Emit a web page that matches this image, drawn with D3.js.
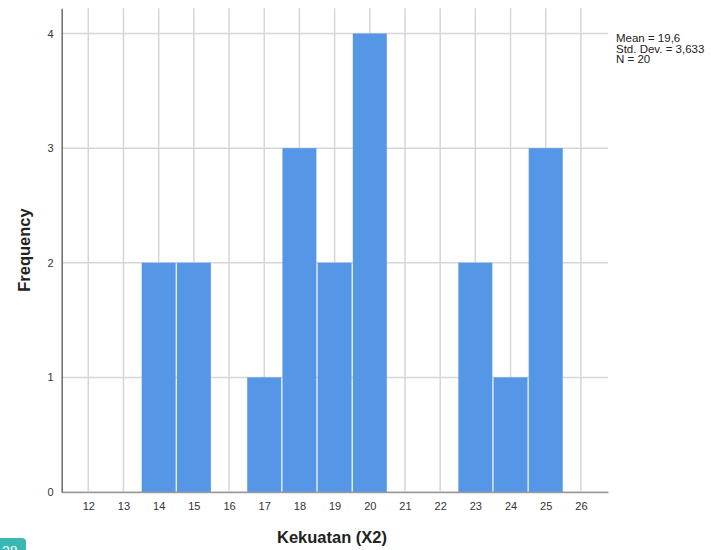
<!DOCTYPE html>
<html>
<head>
<meta charset="utf-8">
<script src="https://cdn.jsdelivr.net/npm/d3@7"></script>
<style>
  html, body { margin: 0; padding: 0; background: #fff; overflow: hidden; }
  svg { display: block; font-family: "Liberation Sans", Arial, sans-serif; }
</style>
</head>
<body>
<svg id="chart" width="711" height="550"></svg>
<script>
// Histogram of Kekuatan (X2), bin width 1
const binValues = [14, 15, 17, 18, 19, 20, 23, 24, 25];
const frequencies = [2, 2, 1, 3, 2, 4, 2, 1, 3];
const xTicks = [12, 13, 14, 15, 16, 17, 18, 19, 20, 21, 22, 23, 24, 25, 26];
const yTicks = [0, 1, 2, 3, 4];
const statsLines = ["Mean = 19,6", "Std. Dev. = 3,633", "N = 20"];

const svg = d3.select("#chart");
const plotLeft = 61.7, plotRight = 608, plotTop = 8.3, plotBottom = 492;

const x = d3.scaleLinear().domain([11.244, 26.77]).range([plotLeft, plotRight]);
const y = d3.scaleLinear().domain([0, 4.22]).range([plotBottom, plotTop]);

// grid
const grid = svg.append("g").attr("stroke", "#d6d6d6").attr("stroke-width", 1.5);
grid.selectAll("line.v").data(xTicks).join("line").attr("class", "v")
  .attr("x1", d => x(d)).attr("x2", d => x(d))
  .attr("y1", plotTop).attr("y2", plotBottom);
grid.selectAll("line.h").data(yTicks).join("line").attr("class", "h")
  .attr("x1", plotLeft).attr("x2", plotRight)
  .attr("y1", d => y(d)).attr("y2", d => y(d));

// bars
svg.append("g").selectAll("rect").data(binValues).join("rect")
  .attr("x", d => x(d - 0.5) + 0.6)
  .attr("width", d => x(d + 0.5) - x(d - 0.5) - 1.2)
  .attr("y", (d, i) => y(frequencies[i]))
  .attr("height", (d, i) => y(0) - y(frequencies[i]))
  .attr("fill", "#5596e6");

// axes
const xAxis = d3.axisBottom(x).tickValues(xTicks).tickSize(0).tickPadding(10);
const gx = svg.append("g").attr("transform", `translate(0,${plotBottom})`).call(xAxis);
gx.select(".domain").attr("stroke", "#9a9a9a").attr("stroke-width", 1.5);
gx.selectAll("text").attr("fill", "#333").style("font-size", "11px")
  .style("font-family", "'Liberation Sans', Arial, sans-serif");

const yAxis = d3.axisLeft(y).tickValues(yTicks).tickFormat(d3.format("d")).tickSize(0).tickPadding(8);
const gy = svg.append("g").attr("transform", `translate(${plotLeft},0)`).call(yAxis);
gy.select(".domain").attr("stroke", "#6a6a6a").attr("stroke-width", 1.5);
gy.selectAll("text").attr("fill", "#333").style("font-size", "11px")
  .style("font-family", "'Liberation Sans', Arial, sans-serif");

// axis titles
svg.append("text")
  .attr("x", 332).attr("y", 543)
  .attr("text-anchor", "middle")
  .attr("font-size", 16.5).attr("font-weight", "bold").attr("fill", "#222")
  .text("Kekuatan (X2)");
svg.append("text")
  .attr("transform", `translate(30,250) rotate(-90)`)
  .attr("text-anchor", "middle")
  .attr("font-size", 16.5).attr("font-weight", "bold").attr("fill", "#222")
  .text("Frequency");

// summary statistics
svg.append("g").selectAll("text").data(statsLines).join("text")
  .attr("x", 616).attr("y", (d, i) => 42 + i * 10.5)
  .attr("font-size", 11.5).attr("fill", "#222")
  .text(d => d);

// page badge
svg.append("rect").attr("x", -8).attr("y", 538).attr("width", 34).attr("height", 30)
  .attr("rx", 4).attr("fill", "#3bb8b4");
svg.append("text").attr("x", 2).attr("y", 556).attr("font-size", 14)
  .attr("fill", "#fff").text("28");
</script>
</body>
</html>
